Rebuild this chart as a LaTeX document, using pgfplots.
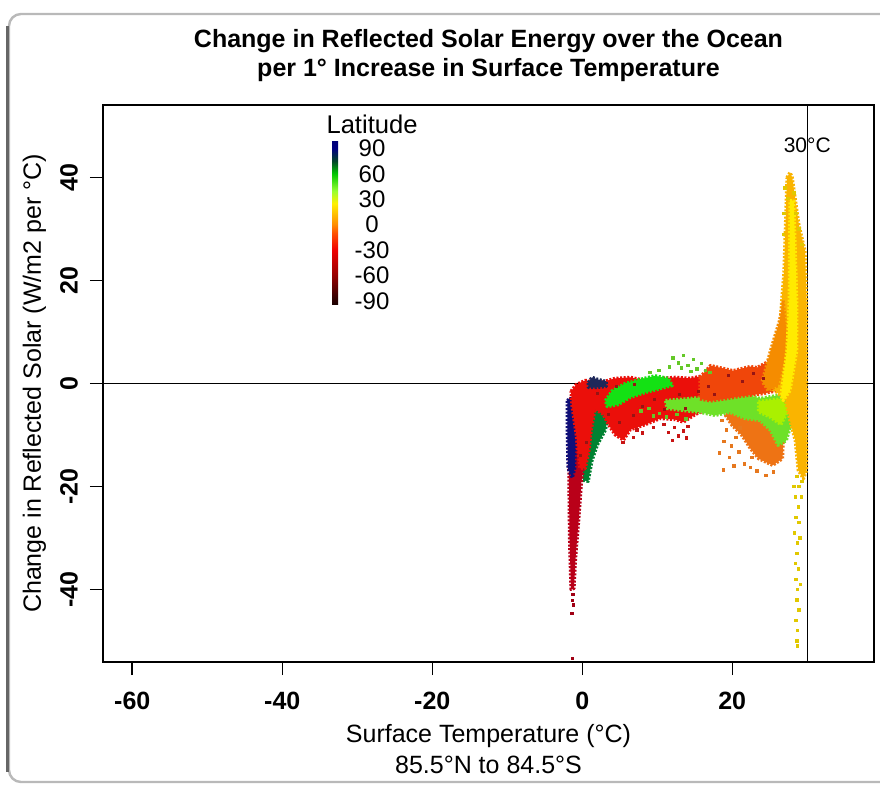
\documentclass[border=0pt]{standalone}
\usepackage{pgfplots}
\pgfplotsset{compat=1.18}
\usepackage{fontspec}
\setmainfont{Liberation Sans}
\definecolor{cNavy}{RGB}{15,15,120}
\definecolor{cNavyB}{RGB}{30,40,90}
\definecolor{cDkRed}{RGB}{185,0,25}
\definecolor{cRed}{RGB}{235,15,10}
\definecolor{cDkGreen}{RGB}{0,130,50}
\definecolor{cGreen}{RGB}{20,225,20}
\definecolor{cOrRed}{RGB}{240,70,10}
\definecolor{cLtGreen}{RGB}{110,225,40}
\definecolor{cLime}{RGB}{170,240,0}
\definecolor{cOrange}{RGB}{238,115,20}
\definecolor{cGold}{RGB}{250,180,0}
\definecolor{cOrFlank}{RGB}{245,140,0}
\definecolor{cYellow}{RGB}{255,235,0}
\pgfplotsset{colormap={lat}{rgb255(1cm)=(25,0,0) rgb255(2cm)=(40,0,0) rgb255(8cm)=(150,0,0) rgb255(14cm)=(240,0,0) rgb255(18cm)=(255,80,0) rgb255(20cm)=(255,140,0) rgb255(23cm)=(255,200,0) rgb255(25cm)=(255,240,0) rgb255(28cm)=(150,255,50) rgb255(32cm)=(0,200,0) rgb255(35cm)=(0,70,40) rgb255(38cm)=(0,0,130) rgb255(40cm)=(0,0,120)}}
\pgfplotsset{blob/.style={fill=#1, draw=#1, line width=1.6pt, dash pattern=on 1pt off 0.8pt, line join=round}}
\begin{document}
\begin{tikzpicture}
\fill[white] (-51.5pt,-61pt) rectangle (388.5pt,331pt);
\begin{axis}[
  name=main, at={(0pt,0pt)}, anchor=south west, scale only axis,
  width=385.5pt, height=278.5pt,
  xmin=-63.9, xmax=38.9, ymin=-54.1, ymax=54.1,
  axis line style={line width=0.75pt},
  xtick={-60,-40,-20,0,20}, xticklabels={-60,-40,-20,0,20},
  ytick={-40,-20,0,20,40}, yticklabels={-40,-20,0,20,40},
  tick align=outside, xtick pos=bottom, ytick pos=left,
  major tick length=6.5pt, tick style={line width=0.75pt, black},
  xticklabel shift=5pt,
  xticklabel style={font=\bfseries\fontsize{12.5}{14}\selectfont, anchor=north},
  yticklabel style={font=\bfseries\fontsize{12.5}{14}\selectfont, anchor=center, inner sep=0pt, xshift=-10.5pt, rotate=90},
  title={Change in Reflected Solar Energy over the Ocean\\per 1° Increase in Surface Temperature},
  title style={align=center, font=\bfseries\fontsize{12.5}{14.5}\selectfont, at={(0.5,1)}, anchor=south, yshift=5.5pt, inner sep=0pt},
  xlabel={Surface Temperature (°C)\\85.5°N to 84.5°S},
  xlabel style={align=center, font=\fontsize{12.5}{15.5}\selectfont, at={(axis description cs:0.5,0)}, anchor=north, yshift=-31pt, inner sep=0pt},
  ylabel={Change in Reflected Solar (W/m2 per °C)},
  ylabel style={font=\fontsize{12.5}{15}\selectfont, at={(axis description cs:-0.089,0.5)}, anchor=center, rotate=0},
  colormap name=lat, point meta min=-95, point meta max=100,
  colorbar,
  colorbar style={
    at={(parent axis.north west)}, anchor=north west,
    xshift=106pt, yshift=-17.5pt,
    width=3pt, height=82.5pt,
    ytick={-90,-60,-30,0,30,60,90}, yticklabels={-90,-60,-30,0,30,60,90},
    yticklabel pos=right,
    yticklabel style={font=\fontsize{12}{13}\selectfont, anchor=center, xshift=17pt},
    major tick length=0pt,
    axis line style={draw=none},
    title={Latitude},
    title style={font=\fontsize{12.8}{15}\selectfont, at={(0.5,1)}, anchor=center, xshift=18.5pt, yshift=2pt, inner sep=0pt},
  },
]
% reference lines
\addplot[black, line width=0.75pt] coordinates {(-70,0) (45,0)};
\addplot[black, line width=0.75pt] coordinates {(30,-60) (30,60)};
% dark green drip
\addplot[blob=cDkGreen] coordinates {(0.0,-4.5) (1.1,-3) (2.4,-3.3) (3.5,-5.5) (3.1,-9) (2.0,-12) (1.3,-15) (0.8,-19) (0.1,-18.8) (0.0,-10)} -- cycle;
% dark red column
\addplot[blob=cDkRed] coordinates {(-1.75,-3) (-0.5,-3) (0.8,-6) (0.5,-13) (-0.1,-19) (-0.5,-27) (-0.9,-34) (-1.1,-39.8) (-1.5,-40.0) (-1.7,-30) (-1.8,-15)} -- cycle;
% navy column
\addplot[blob=cNavy] coordinates {(-2.0,-3.3) (-1.6,-2.9) (-1.0,-3.3) (-0.9,-9) (-1.0,-16.5) (-1.33,-18.3) (-1.9,-16.5) (-2.0,-9)} -- cycle;
% red main cloud
\addplot[blob=cRed] coordinates {(-1.5,-1.5) (-0.8,-0.2) (0.4,0.6) (2.4,0.2) (4.4,1.0) (6.4,1.2) (8.4,0.6) (10.4,1.0) (12.4,1.2) (14.4,1.0) (16.4,1.6) (18.4,2.2) (18.4,-3.0) (16.4,-5.2) (15.1,-6.0) (13.5,-7.5) (12.4,-7.0) (10.4,-6.8) (8.4,-8.0) (6.4,-9.0) (5.5,-11.0) (4.4,-10.0) (3.5,-8) (2.8,-6) (1.7,-5) (1.2,-9) (0.9,-13) (0.4,-16.5) (-0.3,-16.5) (-0.8,-10) (-1.4,-4)} -- cycle;
% bright green band
\addplot[blob=cGreen] coordinates {(3.1,-3.3) (4.0,-1.4) (5.7,0) (7.7,0.8) (9.7,1.5) (11.5,1.0) (12.0,-0.4) (10.4,-1.0) (8.4,-1.75) (6.4,-2.7) (4.8,-4.1) (3.3,-4.5)} -- cycle;
% navy bits
\addplot[blob=cNavyB] coordinates {(0.8,0.2) (1.3,1.2) (2.1,0.8) (3.2,0.4) (3.2,-0.6) (1.7,-0.8) (0.8,-0.8)} -- cycle;
% orange blob
\addplot[blob=cOrange] coordinates {(19.7,-4.3) (21.7,-4.9) (23.7,-6.2) (25.7,-8.2) (26.8,-11.1) (26.7,-14.6) (25.4,-15.9) (23.5,-14.6) (22.4,-12.6) (21.3,-10.1) (20.0,-8.2) (19.1,-6.2)} -- cycle;
% light green right cloud
\addplot[blob=cLtGreen] coordinates {(11.1,-3.3) (14.4,-2.9) (17.1,-2.5) (21.1,-1.75) (23.7,-2.9) (26.1,-2.3) (27.7,-3.3) (28.0,-7.2) (27.2,-11.1) (26.1,-12.0) (25.1,-9.1) (23.7,-7.2) (21.7,-6.8) (19.7,-5.6) (17.7,-6.2) (15.7,-5.6) (13.1,-5.2) (11.3,-4.85)} -- cycle;
\addplot[blob=cLime] coordinates {(23.5,-3.5) (26.5,-3) (27.5,-5) (26.5,-8) (25,-6.5) (23.5,-5.5)} -- cycle;
% orange-red right cloud
\addplot[blob=cOrRed] coordinates {(15.7,1.2) (17.1,3.5) (20.1,2.5) (22.4,3.3) (23.3,3.1) (25.1,4.5) (26.0,6.4) (26.7,5.5) (26.8,-0.5) (26.0,-1.4) (24.0,-2.0) (21.1,-2.5) (19.0,-3.0) (17.1,-3.4) (15.7,-3.0)} -- cycle;
% spike
\addplot[blob=cGold] coordinates {(27.3,40.0) (27.7,41.0) (28.0,40.0) (28.9,30.7) (29.7,25.8) (29.9,16.1) (29.9,-16.9) (29.5,-18.5) (28.8,-16.9) (28.4,-11.1) (27.7,-7.2) (27.1,-3.3) (25.7,-1.4) (24.8,-0.4) (25.3,4.5) (26.3,10.3) (26.9,21.9)} -- cycle;
\addplot[blob=cOrFlank] coordinates {(26.8,16.1) (27.2,10.3) (26.9,4.5) (26.1,-0.4) (24.8,-1.4) (24.0,0.4) (25.1,6.4) (26.3,12.2)} -- cycle;
\addplot[blob=cYellow] coordinates {(27.7,35.5) (28.2,35.5) (28.6,16.1) (28.6,6.4) (27.7,-1.4) (26.8,-3.3) (26.5,-2.3) (27.3,6.4) (27.6,16.1)} -- cycle;
% dark speckles inside clouds
\addplot[only marks, mark=square*, mark size=0.5pt, color={rgb,255:red,150;green,20;blue,20}] coordinates {(2.0,-2.0) (3.5,-6.0) (5.0,-7.5) (6.8,-6.2) (8.0,-4.5) (9.6,-3.0) (11.0,-5.0) (12.9,-2.2) (13.8,-4.8) (15.5,-1.5) (16.8,-0.5) (17.6,-2.2) (19.5,1.5) (21.3,0.5) (22.8,2.0) (24.2,1.0) (0.6,-11.5) (-0.2,-14.0) (4.6,-0.6) (7.0,-0.2)};
% sparse dots
\addplot[only marks, mark=square*, mark size=0.6pt, color={rgb,255:red,225;green,200;blue,0}] coordinates {(28.6,-18) (28.9,-20) (28.4,-22) (28.8,-24) (28.5,-26) (28.9,-27) (28.3,-29) (28.7,-31) (28.6,-33) (28.4,-35) (28.8,-36) (28.5,-38) (28.7,-40) (28.6,-42) (28.9,-44) (28.5,-46) (28.7,-48) (28.6,-50) (28.7,-51) (29.2,-22) (29.0,-30) (29.3,-19) (28.2,-20) (29.1,-39) (27.0,38) (27.4,36) (26.9,33) (28.2,37) (28.5,33) (26.8,29) (28.9,30) (29.3,27)};
\addplot[only marks, mark=square*, mark size=0.6pt, color={rgb,255:red,100;green,200;blue,40}] coordinates {(12.1,5.0) (12.8,4.0) (13.5,5.4) (14.1,3.5) (14.8,4.7) (15.3,2.8) (15.9,3.9) (16.4,2.5) (13.2,3.0) (11.6,3.2) (14.5,2.3) (17.0,2.2) (9.0,2.2) (10.2,2.6) (8.9,-4.8) (10.3,-5.8) (9.5,-6.3) (11.2,-6.5) (12.6,-6.0) (13.8,-6.9) (7.8,-5.3)};
\addplot[only marks, mark=square*, mark size=0.6pt, color={rgb,255:red,200;green,20;blue,20}] coordinates {(10.9,-8) (11.5,-9.5) (12.3,-8.5) (12.8,-10.2) (13.5,-9.2) (14.1,-8.3) (12.0,-11.0) (13.9,-10.6) (9.5,-8.5) (8.0,-9.6) (6.8,-10.5) (5.4,-11.5) (7.3,-9.0)};
\addplot[only marks, mark=square*, mark size=0.6pt, color={rgb,255:red,230;green,120;blue,30}] coordinates {(18.6,-7.2) (19.2,-9.0) (18.9,-11.3) (19.9,-12.1) (20.5,-10.5) (19.6,-14.3) (18.8,-16.8) (20.9,-13.3) (21.6,-15.6) (22.4,-16.3) (23.3,-17.0) (20.2,-16.0) (18.3,-13.5) (21.0,-8.6) (22.6,-14.3) (24.5,-17.8) (25.5,-17.2)};
\addplot[only marks, mark=square*, mark size=0.6pt, color={rgb,255:red,160;green,0;blue,20}] coordinates {(-1.3,-42.1) (-1.2,-43) (-1.4,-44.7) (-1.3,-53.4) (-1.25,-41)};
\node[font=\fontsize{10.5}{12}\selectfont] at (axis cs:30,46.2) {30°C};
\end{axis}
\draw[gray!55, line width=1.2pt, rounded corners=6pt] (400pt,324pt) -- (-47pt,324pt) -- (-47pt,-60pt) -- (400pt,-60pt);
\draw[gray!80!black, line width=1.5pt] (-47.5pt,318pt) -- (-47.5pt,-55pt);
\pgfresetboundingbox
\useasboundingbox (-51.5pt,-61pt) rectangle (388.5pt,331pt);
\end{tikzpicture}
\end{document}
